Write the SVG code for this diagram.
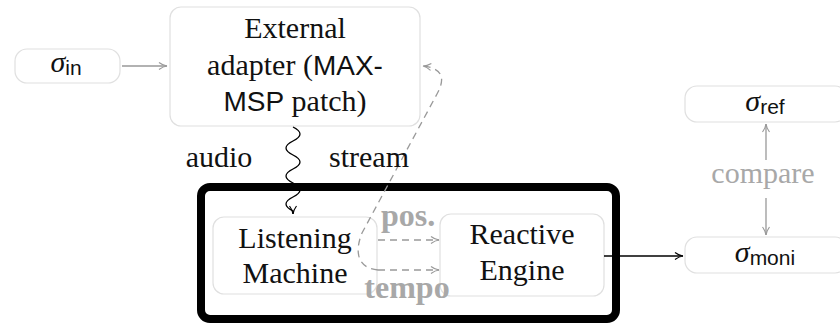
<svg xmlns="http://www.w3.org/2000/svg" width="840" height="323" viewBox="0 0 840 323">
<defs>
<style>
.box{fill:#fff;stroke:#e0e0e0;stroke-width:1.2}
.t{font-family:"Liberation Serif","Times New Roman","DejaVu Serif",serif;font-size:30px;fill:#111;text-anchor:middle}
.s{font-family:"Liberation Sans",Arial,sans-serif;font-size:28px}
.m{font-style:italic}
.sub{font-family:"Liberation Sans",Arial,sans-serif;font-size:21px}
.g{fill:#a8a8a8}
.b{font-weight:bold;font-size:32px}
.gl{fill:none;stroke:#999;stroke-width:1.3}
.bl{fill:none;stroke:#000;stroke-width:1.3}
</style>
<marker id="ag" viewBox="0 0 10 10" refX="9" refY="5" markerWidth="10" markerHeight="10" markerUnits="userSpaceOnUse" orient="auto">
<path d="M1,1.5 Q5,4.5 9,5 Q5,5.5 1,8.5" fill="none" stroke="#999" stroke-width="1.2"/>
</marker>
<marker id="ab" viewBox="0 0 10 10" refX="9" refY="5" markerWidth="10" markerHeight="10" markerUnits="userSpaceOnUse" orient="auto">
<path d="M1,1.5 Q5,4.5 9,5 Q5,5.5 1,8.5" fill="none" stroke="#000" stroke-width="1.2"/>
</marker>
</defs>
<rect width="840" height="323" fill="#fff"/>

<g id="system">
<rect x="201" y="187" width="415" height="132" rx="9" fill="none" stroke="#000" stroke-width="8"/>
</g>

<g id="sigma_in">
<rect class="box" x="15" y="49" width="105" height="34" rx="12"/>
<text class="t" x="66" y="72"><tspan class="m">σ</tspan><tspan class="sub" dy="3">in</tspan></text>
</g>

<g id="adapter">
<rect class="box" x="170" y="7" width="250" height="119" rx="11"/>
<text class="t" x="295" y="38">External</text>
<text class="t" x="295" y="75">adapter (<tspan class="s">MAX-</tspan></text>
<text class="t" x="295" y="111"><tspan class="s">MSP</tspan> patch)</text>
</g>

<g id="listening">
<rect class="box" x="213" y="217" width="164" height="77" rx="11"/>
<text class="t" x="295" y="248">Listening</text>
<text class="t" x="295" y="283">Machine</text>
</g>

<g id="reactive">
<rect class="box" x="440" y="214" width="164" height="82" rx="11"/>
<text class="t" x="522" y="244">Reactive</text>
<text class="t" x="522" y="280">Engine</text>
</g>

<g id="sigma_ref">
<rect class="box" x="685" y="86" width="162" height="36" rx="12"/>
<text class="t" x="765" y="111"><tspan class="m">σ</tspan><tspan class="sub" dy="3">ref</tspan></text>
</g>

<g id="sigma_moni">
<rect class="box" x="685" y="237" width="162" height="36" rx="12"/>
<text class="t" x="765" y="262"><tspan class="m">σ</tspan><tspan class="sub" dy="3">moni</tspan></text>
</g>

<g id="connectors">
<path class="gl" d="M122,66 L167,66" marker-end="url(#ag)"/>
<path class="bl" d="M293,127 q14,7 0,14 t0,14 t0,14 t0,14 t0,14 t0,14 L293,214" marker-end="url(#ab)"/>
<path class="gl" d="M378,240 L439,240" stroke-dasharray="7,5" marker-end="url(#ag)"/>
<path class="gl" d="M378,270 L439,270" stroke-dasharray="7,5" marker-end="url(#ag)"/>
<path class="gl" d="M378,270 C356,268 355,250 362,233 L437,94 C447,76 440,68 423,66" stroke-dasharray="7,5" stroke-width="1" marker-end="url(#ag)"/>
<path class="bl" d="M604,256 L683,256" marker-end="url(#ab)"/>
<path class="gl" d="M766,160 L766,124" marker-end="url(#ag)"/>
<path class="gl" d="M766,198 L766,235" marker-end="url(#ag)"/>
<text class="t" x="219" y="167">audio</text>
<text class="t" x="369" y="167">stream</text>
<text class="t g b" x="408" y="226">pos.</text>
<text class="t g b" x="407" y="298">tempo</text>
<text class="t g" x="763" y="183">compare</text>
</g>
</svg>
